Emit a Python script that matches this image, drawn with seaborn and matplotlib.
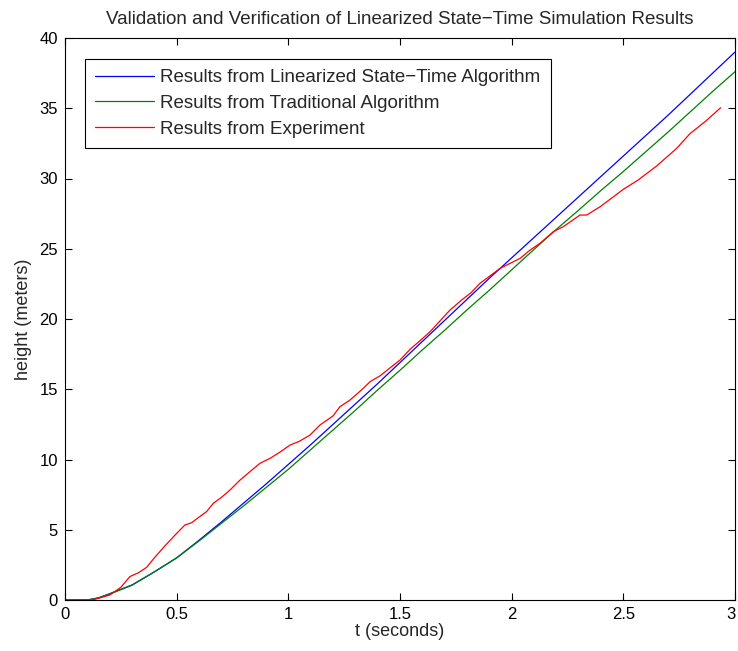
import numpy as np
import pandas as pd
import seaborn as sns
import matplotlib
matplotlib.use("Agg")
import matplotlib.pyplot as plt
import matplotlib.transforms as mtransforms

# linearized state-time algorithm
t_lin = [0, 0.1, 0.15, 0.2, 0.3, 0.4, 0.5, 0.6, 0.7, 0.8, 0.9, 1.0, 1.1, 1.2, 1.3,
         1.4, 1.5, 1.6, 1.7, 1.8, 1.9, 2.0, 2.1, 2.2, 2.3, 2.4, 2.5, 2.6, 2.7,
         2.8, 2.9, 3.0]
h_lin = [0, 0, 0.15, 0.45, 1.07, 2.0, 3.0, 4.25, 5.55, 6.9, 8.25, 9.65, 11.05, 12.5, 13.95,
         15.4, 16.9, 18.4, 19.9, 21.4, 22.9, 24.35, 25.8, 27.25, 28.7, 30.15,
         31.6, 33.05, 34.5, 36.0, 37.5, 39.0]

# traditional algorithm
t_trad = [0, 0.1, 0.15, 0.2, 0.3, 0.4, 0.5, 0.6, 0.7, 0.8, 0.9, 1.0, 1.1, 1.2, 1.3,
          1.4, 1.5, 1.6, 1.7, 1.8, 1.9, 2.0, 2.1, 2.2, 2.3, 2.4, 2.5, 2.6, 2.7,
          2.8, 2.9, 3.0]
h_trad = [0, 0, 0.15, 0.42, 1.05, 2.0, 3.0, 4.2, 5.45, 6.7, 8.0, 9.3, 10.7, 12.1, 13.5,
          14.95, 16.35, 17.8, 19.2, 20.65, 22.05, 23.5, 24.95, 26.38, 27.75, 29.15,
          30.5, 31.9, 33.3, 34.75, 36.2, 37.6]

# experiment
t_exp = [0, 0.13, 0.2, 0.25, 0.29, 0.33, 0.366, 0.4, 0.45, 0.5, 0.537, 0.567, 0.6,
         0.634, 0.664, 0.7, 0.739, 0.784, 0.828, 0.873, 0.92, 0.96, 1.008, 1.05,
         1.097, 1.142, 1.2, 1.231, 1.276, 1.336, 1.366, 1.41, 1.5, 1.545, 1.6,
         1.635, 1.724, 1.776, 1.82, 1.858, 1.948, 2.038, 2.082, 2.127, 2.187,
         2.231, 2.306, 2.336, 2.396, 2.5, 2.567, 2.65, 2.739, 2.799, 2.87, 2.936]
h_exp = [0, 0.03, 0.35, 0.9, 1.66, 1.95, 2.33, 3.0, 3.9, 4.74, 5.34, 5.5, 5.9,
         6.29, 6.88, 7.3, 7.83, 8.54, 9.13, 9.73, 10.1, 10.5, 11.03, 11.3,
         11.74, 12.46, 13.1, 13.76, 14.23, 15.07, 15.54, 15.95, 17.08, 17.84, 18.6,
         19.1, 20.64, 21.35, 21.9, 22.54, 23.6, 24.32, 24.9, 25.39, 26.22,
         26.57, 27.4, 27.4, 27.99, 29.23, 29.9, 30.9, 32.15, 33.2, 34.1, 35.04]

labels = ["Results from Linearized State\u2212Time Algorithm",
          "Results from Traditional Algorithm",
          "Results from Experiment"]

sns.set_style("ticks")
plt.rcParams['font.family'] = ['Liberation Sans', 'DejaVu Sans']

fig = plt.figure(figsize=(7.38, 6.51), dpi=100)
ax = fig.add_axes([65/738, 51/651, 670/738, 562/651])

sns.lineplot(x=t_lin, y=h_lin, ax=ax, color='#0000ff', lw=0.9, label=labels[0])
sns.lineplot(x=t_trad, y=h_trad, ax=ax, color='#008000', lw=0.9, label=labels[1])
sns.lineplot(x=t_exp, y=h_exp, ax=ax, color='#ff0000', lw=0.9, label=labels[2])

ax.set_xlim(0, 3)
ax.set_ylim(0, 40)
ax.set_xticks([0, 0.5, 1, 1.5, 2, 2.5, 3])
ax.set_xticklabels(["0", "0.5", "1", "1.5", "2", "2.5", "3"])
ax.set_yticks(range(0, 41, 5))
ax.tick_params(direction='in', top=True, right=True, length=5, width=0.8,
               labelsize=12, colors='black', pad=5)
for s in ax.spines.values():
    s.set_visible(True)
    s.set_linewidth(0.8)
    s.set_color('black')

# nudge the last x tick label so it stays inside the figure
last = ax.get_xticklabels()[-1]
last.set_transform(last.get_transform() +
                   mtransforms.ScaledTranslation(-4/100, 0, fig.dpi_scale_trans))

ax.set_title("Validation and Verification of Linearized State\u2212Time Simulation Results",
             fontsize=13.5, pad=10)
ax.set_xlabel("t (seconds)", fontsize=13, labelpad=1)
ax.set_ylabel("height (meters)", fontsize=13, labelpad=5)

leg = ax.legend(loc='upper left', bbox_to_anchor=(0.03, 0.9626), fontsize=13.5,
                fancybox=False, edgecolor='black', framealpha=1,
                handlelength=3.1, handletextpad=0.37, borderpad=0.55,
                labelspacing=0.45, borderaxespad=0)
leg.get_frame().set_linewidth(0.8)

fig.savefig("out.png", dpi=100)
